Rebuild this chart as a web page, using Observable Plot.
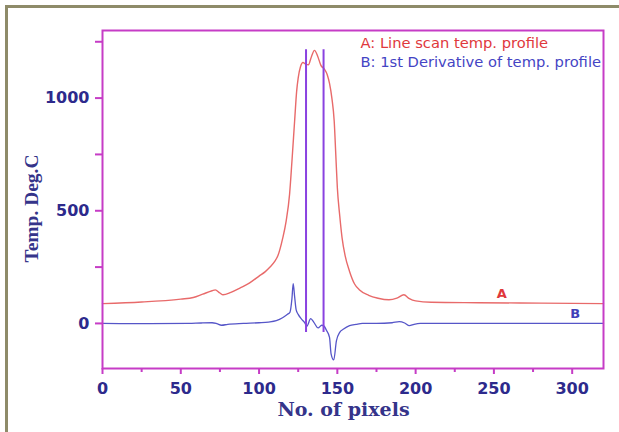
<!DOCTYPE html>
<html>
<head>
<meta charset="utf-8">
<script src="https://cdn.jsdelivr.net/npm/d3@7"></script>
<script src="https://cdn.jsdelivr.net/npm/@observablehq/plot@0.6"></script>
<style>
  html, body { margin: 0; padding: 0; background: #fff; }
  #wrap { position: relative; width: 619px; height: 432px; overflow: hidden; }
  #border { position: absolute; left: 5px; top: 5px; width: 700px; height: 500px;
            border-left: 3px solid #8e8b69; border-top: 3px solid #8e8b69; pointer-events: none; z-index: 2; }
</style>
</head>
<body>
<div id="wrap"><div id="border"></div></div>
<script>
// Curve A: line scan temperature profile
const pixelsA = [0, 25, 50, 58, 64, 70, 72, 75, 77, 82, 88, 94, 100, 104, 107, 110, 112, 115, 117.3, 119.5, 121, 122.7, 124, 125, 126.5, 128, 130, 131.5, 133.5, 135.4, 137.5, 139.5, 141.8, 143.5, 145, 146.5, 148, 149, 150, 151.5, 153, 155, 157.7, 161, 164, 170, 176, 183, 188, 192.5, 196, 200, 210, 240, 280, 320];
const tempA   = [88, 95, 108, 115, 130, 145, 149, 135, 127, 138, 158, 180, 210, 230, 250, 275, 300, 375, 454, 574, 720, 897, 1030, 1090, 1140, 1158, 1150, 1148, 1185, 1212, 1185, 1145, 1128, 1105, 1065, 1000, 897, 750, 602, 480, 381, 300, 233, 175, 150, 125, 112, 105, 112, 127, 110, 100, 94, 92, 90, 88];

// Curve B: 1st derivative of temperature profile
const pixelsB = [0, 30, 55, 63, 70, 73, 76, 80, 90, 100, 106, 111, 115, 118, 119.7, 121, 121.8, 122.7, 123.7, 125, 127, 129, 130.5, 133, 135, 137.7, 140, 141.5, 143, 145, 146, 147.7, 149.4, 151.5, 154, 157.8, 162, 166, 175, 185, 189.5, 193, 196, 199, 203, 250, 320];
const derivB  = [0, -1, 0, 2, 3, -1, -8, -4, 0, 3, 6, 12, 25, 40, 49, 110, 177, 120, 60, 40, 20, 5, -12, 21, 5, -20, -8, -12, -30, -62, -135, -162, -77, -40, -25, -10, -4, 0, 0, 3, 8, 2, -10, -4, 0, 0, 0];

// Edge marker lines
const markerX = [130, 141.2];
const markerLow = [-40, -40];
const markerHigh = [1215, 1215];

// Ticks
const xTicks = [0, 50, 100, 150, 200, 250, 300];
const xMinor = [25, 75, 125, 175, 225, 275];
const yTicks = [0, 500, 1000];
const yMinor = [250, 750, 1250];

// Labels
const legendLines = ["A: Line scan temp. profile", "B: 1st Derivative of temp. profile"];
const curveNames = ["A", "B"];
const curveLabelX = [255, 302];
const curveLabelY = [130, 42];

const dataA = pixelsA.map((x, i) => ({x, y: tempA[i]}));
const dataB = pixelsB.map((x, i) => ({x, y: derivB[i]}));
const markers = markerX.map((x, i) => ({x, y1: markerLow[i], y2: markerHigh[i]}));
const curveLbl = curveNames.map((t, i) => ({t, x: curveLabelX[i], y: curveLabelY[i]}));

const frameColor = "#c63cc6";
const tickText = "#2d2a8c";
const titleColor = "#35348a";
const redC = "#e86a6a";
const blueC = "#5656c8";
const violetC = "#8a42e0";

const chart = Plot.plot({
  width: 619,
  height: 432,
  marginLeft: 102,
  marginRight: 16,
  marginTop: 30,
  marginBottom: 64,
  x: {domain: [0, 320]},
  y: {domain: [-200, 1300]},
  style: {background: "transparent"},
  marks: [
    Plot.line(dataA, {x: "x", y: "y", stroke: redC, strokeWidth: 1.4, curve: "monotone-x"}),
    Plot.line(dataB, {x: "x", y: "y", stroke: blueC, strokeWidth: 1.3, curve: "monotone-x"}),
    Plot.ruleX(markers, {x: "x", y1: "y1", y2: "y2", stroke: violetC, strokeWidth: 2}),
    Plot.frame({stroke: frameColor, strokeWidth: 2}),
    Plot.axisX(xTicks, {tickSize: 6, tickPadding: 8, stroke: frameColor, strokeWidth: 2, tickFormat: "d",
      fill: tickText, fontSize: 16, fontWeight: "bold", fontFamily: "DejaVu Sans", label: null}),
    Plot.axisX(xMinor, {tickSize: 4, stroke: frameColor, strokeWidth: 2, text: null, label: null}),
    Plot.axisY(yTicks, {tickSize: 7, tickPadding: 6, stroke: frameColor, strokeWidth: 2, tickFormat: "d",
      fill: tickText, fontSize: 16, fontWeight: "bold", fontFamily: "DejaVu Sans", label: null}),
    Plot.axisY(yMinor, {tickSize: 7, stroke: frameColor, strokeWidth: 2, text: null, label: null}),
    Plot.text([legendLines[0]], {frameAnchor: "top-left", dx: 258, dy: 13, textAnchor: "start", lineAnchor: "middle",
      fill: "#e0383c", fontSize: 14.7, fontFamily: "DejaVu Sans"}),
    Plot.text([legendLines[1]], {frameAnchor: "top-left", dx: 258, dy: 32, textAnchor: "start", lineAnchor: "middle",
      fill: "#4444c4", fontSize: 14.7, fontFamily: "DejaVu Sans"}),
    Plot.text(curveLbl, {x: "x", y: "y", text: "t", fill: (d) => d.t === "A" ? "#e0383c" : "#4040b8",
      fontSize: 13, fontWeight: "bold", fontFamily: "DejaVu Sans"}),
    Plot.text(["No. of pixels"], {frameAnchor: "bottom", dx: -9.5, dy: 41, textAnchor: "middle", lineAnchor: "middle",
      fill: titleColor, fontSize: 19, fontWeight: "bold", fontFamily: "DejaVu Serif"}),
    Plot.text(["Temp. Deg.C"], {frameAnchor: "left", dx: -71, dy: 9, rotate: -90, textAnchor: "middle", lineAnchor: "middle",
      fill: titleColor, fontSize: 19.5, fontWeight: "bold", fontFamily: "Liberation Serif"})
  ]
});
document.getElementById("wrap").appendChild(chart);
</script>
</body>
</html>
